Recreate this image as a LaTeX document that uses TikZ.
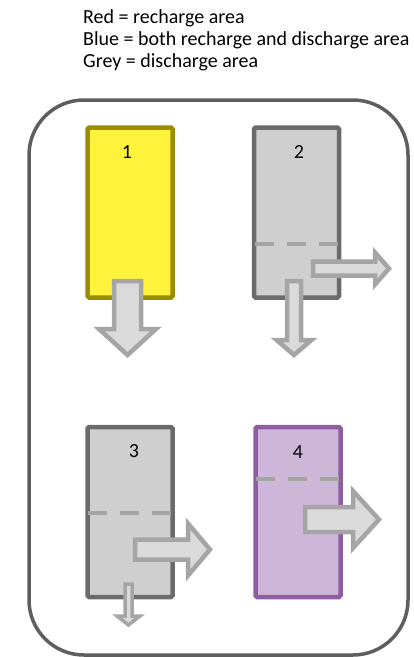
\documentclass[tikz,border=0pt]{standalone}
\usepackage{fontspec}
\setmainfont{Carlito}

\definecolor{frameline}{HTML}{5E5E5E}
\definecolor{yellowfill}{HTML}{FFF23C}
\definecolor{yellowedge}{HTML}{998E00}
\definecolor{greyfill}{HTML}{CFCFCF}
\definecolor{greyedge}{HTML}{6B6B6B}
\definecolor{purplefill}{HTML}{CDB6D8}
\definecolor{purpleedge}{HTML}{8F5DA2}
\definecolor{flowfill}{HTML}{DADADA}
\definecolor{flowedge}{HTML}{A5A5A5}

\begin{document}
\begin{tikzpicture}[x=1pt,y=-1pt,
  legend/.style={anchor=base west,inner sep=0pt,font=\fontsize{20}{24}\selectfont},
  num/.style={inner sep=0pt,font=\fontsize{20}{24}\selectfont},
  well/.style={shape=rectangle,line width=4.5pt,minimum width=85pt,minimum height=170pt,rounded corners=1.5pt,inner sep=0pt},
  level/.style={draw=flowedge,line width=4.5pt,dash pattern=on 19pt off 13pt},
  flow/.style={draw=flowedge,fill=flowfill,line width=4.5pt,line join=miter}]
\useasboundingbox (0,0) rectangle (414,657);

\node[legend] (red) at (83,23.5) {Red = recharge area};
\node[legend] (blue) at (83,45.7) {Blue = both recharge and discharge area};
\node[legend] (grey) at (83,67.8) {Grey = discharge area};

\draw[frameline,line width=3.5pt,rounded corners=55pt] (29,100) rectangle (408,655);

\node[well,draw=yellowedge,fill=yellowfill] (w1) at (130,212.5) {};
\node[well,draw=greyedge,fill=greyfill] (w2) at (296.5,212.5) {};
\node[well,draw=greyedge,fill=greyfill] (w3) at (130,512) {};
\node[well,draw=purpleedge,fill=purplefill] (w4) at (298,512) {};

\node[num] (n1) at (127,151.7) {1};
\node[num] (n2) at (299,151.7) {2};
\node[num] (n3) at (134,451) {3};
\node[num] (n4) at (298,452) {4};

\draw[level] (254.5,244) -- (338.5,244);
\draw[level] (87.5,513) -- (172.5,513);
\draw[level] (255.5,479) -- (340.5,479);

% well 1
\draw[flow] (114,281) -- (141,281) -- (141,329) -- (156,329) -- (127.5,355) -- (99,329) -- (114,329) -- cycle;
% well 2
\draw[flow] (287,281) -- (301,281) -- (301,340) -- (311.5,340) -- (294,355) -- (276.5,340) -- (287,340) -- cycle;
\draw[flow] (313,261.5) -- (375,261.5) -- (375,252.5) -- (389,268.5) -- (375,284.5) -- (375,275.5) -- (313,275.5) -- cycle;
% well 3
\draw[flow] (135,539.5) -- (188,539.5) -- (188,523.5) -- (210,549.5) -- (188,575.5) -- (188,559.5) -- (135,559.5) -- cycle;
\draw[flow,line width=3.5pt] (125,584) -- (132,584) -- (132,616) -- (140,616) -- (128.5,625) -- (117,616) -- (125,616) -- cycle;
% well 4
\draw[flow] (305,507) -- (353,507) -- (353,491) -- (379,519.5) -- (353,548) -- (353,532) -- (305,532) -- cycle;
\end{tikzpicture}
\end{document}
